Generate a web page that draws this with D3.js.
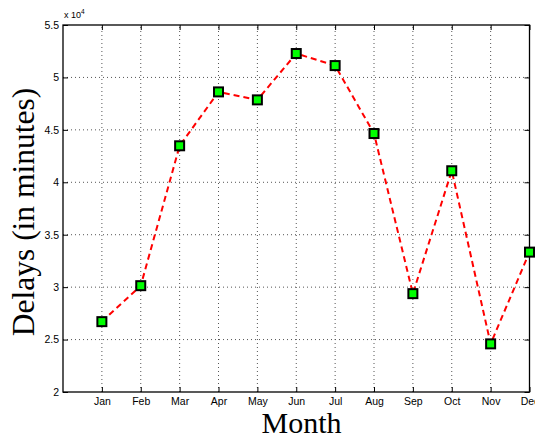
<!DOCTYPE html>
<html lang="en">
<head>
<meta charset="UTF-8">
<title>Delays by month</title>
<script src="https://d3js.org/d3.v7.min.js"></script>
<style>
  body { margin: 0; background: #fff; }
  .tick text { font-family: "Liberation Sans", Arial, sans-serif; font-size: 10.5px; fill: #000; }
  .lbl { font-family: "Liberation Serif", "DejaVu Serif", serif; fill: #000; }
</style>
</head>
<body>
<div id="chart"></div>
<script>
// data (delays in minutes)
var months = ["Jan", "Feb", "Mar", "Apr", "May", "Jun", "Jul", "Aug", "Sep", "Oct", "Nov", "Dec"];
var delays = [26710, 30140, 43480, 48620, 47860, 52280, 51130, 44650, 29380, 41100, 24590, 33340];
var yTicks = [20000, 25000, 30000, 35000, 40000, 45000, 50000, 55000];

var width = 535, height = 438;
var margin = {top: 25, right: 5.5, bottom: 46, left: 63};

var svg = d3.select("#chart").append("svg")
    .attr("width", width)
    .attr("height", height);

var x = d3.scaleLinear()
    .domain([0, 12])
    .range([margin.left, width - margin.right]);

var y = d3.scaleLinear()
    .domain([20000, 55000])
    .range([height - margin.bottom, margin.top]);

var x0 = x.range()[0], x1 = x.range()[1];
var y0 = y.range()[0], y1 = y.range()[1];

// dotted grid
var grid = svg.append("g").attr("stroke", "#555").attr("stroke-width", 1).attr("stroke-dasharray", "1,3");
grid.selectAll(".gx").data(d3.range(1, 12))
    .enter().append("line")
    .attr("x1", function(d) { return x(d); }).attr("x2", function(d) { return x(d); })
    .attr("y1", y0).attr("y2", y1);
grid.selectAll(".gy").data(yTicks.slice(1, -1))
    .enter().append("line")
    .attr("y1", function(d) { return y(d); }).attr("y2", function(d) { return y(d); })
    .attr("x1", x0).attr("x2", x1);

// axes with inward ticks
var xAxis = d3.axisBottom(x)
    .tickValues(d3.range(1, 13))
    .tickFormat(function(d) { return months[d - 1]; })
    .tickSizeInner(-5).tickSizeOuter(0).tickPadding(6);
svg.append("g").attr("transform", "translate(0," + y0 + ")").call(xAxis);

var xTop = d3.axisTop(x).tickValues(d3.range(1, 13)).tickFormat("").tickSizeInner(-5).tickSizeOuter(0);
svg.append("g").attr("transform", "translate(0," + y1 + ")").call(xTop);

var yAxis = d3.axisLeft(y)
    .tickValues(yTicks)
    .tickFormat(function(d) { return d3.format("")(d / 10000); })
    .tickSizeInner(-5).tickSizeOuter(0).tickPadding(4);
svg.append("g").attr("transform", "translate(" + x0 + ",0)").call(yAxis);

var yRight = d3.axisRight(y).tickValues(yTicks).tickFormat("").tickSizeInner(-5).tickSizeOuter(0);
svg.append("g").attr("transform", "translate(" + x1 + ",0)").call(yRight);

svg.selectAll(".domain").remove();
svg.selectAll(".tick line").attr("stroke", "#000");

// box
svg.append("rect")
    .attr("x", x0).attr("y", y1)
    .attr("width", x1 - x0).attr("height", y0 - y1)
    .attr("fill", "none").attr("stroke", "#000").attr("stroke-width", 1.3);

// exponent label
var ex = svg.append("text")
    .attr("x", x0 + 1).attr("y", y1 - 7)
    .style("font-family", "Liberation Sans, Arial, sans-serif").style("font-size", "9px");
ex.append("tspan").text("x 10");
ex.append("tspan").attr("dy", -4).style("font-size", "6.5px").text("4");

// line
var line = d3.line()
    .x(function(d, i) { return x(i + 1); })
    .y(function(d) { return y(d); });

svg.append("path")
    .datum(delays)
    .attr("d", line)
    .attr("fill", "none")
    .attr("stroke", "#ff0000")
    .attr("stroke-width", 2)
    .attr("stroke-dasharray", "6,4");

// square markers
var ms = 9;
svg.selectAll(".mark").data(delays)
    .enter().append("rect")
    .attr("x", function(d, i) { return x(i + 1) - ms / 2; })
    .attr("y", function(d) { return y(d) - ms / 2; })
    .attr("width", ms).attr("height", ms)
    .attr("fill", "#00ff00")
    .attr("stroke", "#000")
    .attr("stroke-width", 2);

// axis titles
svg.append("text").attr("class", "lbl")
    .attr("x", 301.5).attr("y", 433)
    .attr("text-anchor", "middle")
    .style("font-size", "30px")
    .text("Month");

svg.append("text").attr("class", "lbl")
    .attr("transform", "translate(34,212) rotate(-90)")
    .attr("text-anchor", "middle")
    .style("font-size", "31.5px")
    .text("Delays (in minutes)");
</script>
</body>
</html>
